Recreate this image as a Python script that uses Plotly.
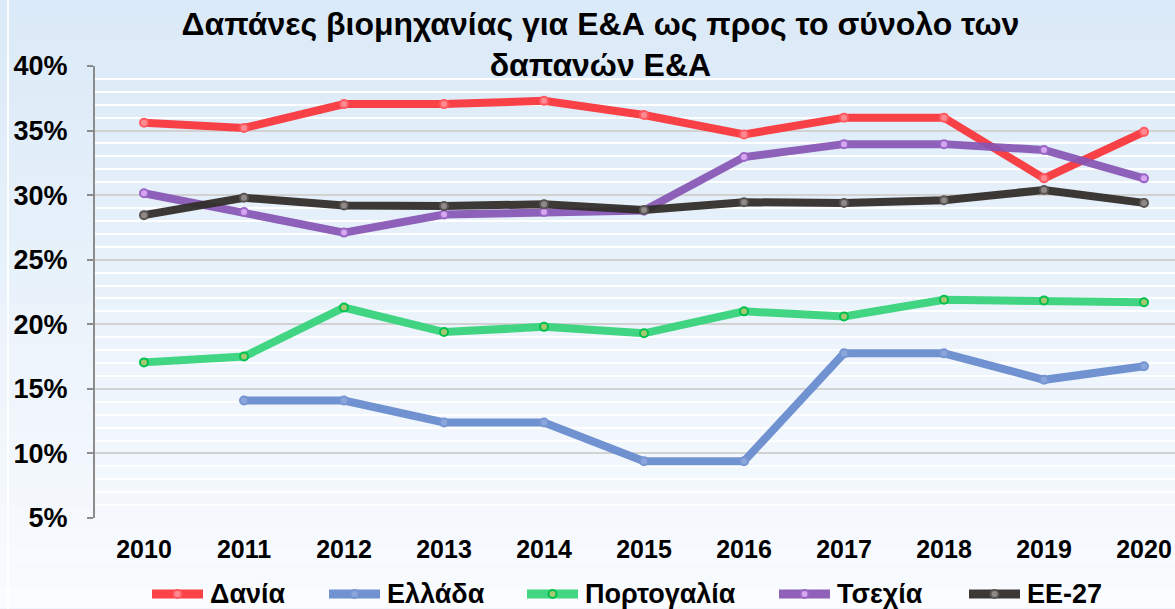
import plotly.graph_objects as go

years = ['2010', '2011', '2012', '2013', '2014', '2015', '2016', '2017', '2018', '2019', '2020']

dania = [35.6, 35.2, 37.05, 37.05, 37.3, 36.2, 34.7, 36.0, 36.0, 31.3, 34.9]
ellada = [None, 14.1, 14.1, 12.4, 12.4, 9.4, 9.4, 17.75, 17.75, 15.7, 16.75]
portogalia = [17.05, 17.5, 21.3, 19.4, 19.8, 19.3, 21.0, 20.6, 21.9, 21.85, 21.7]
tsexia = [30.15, 28.7, 27.1, 28.5, 28.7, 28.8, 32.95, 33.95, 33.95, 33.5, 31.3]
ee27 = [28.45, 29.8, 29.2, 29.15, 29.3, 28.85, 29.45, 29.4, 29.6, 30.4, 29.4]

series = [
    ('Δανία', dania, 'rgba(250,50,55,0.92)', '#ff8a92', '#ff5a62'),
    ('Ελλάδα', ellada, 'rgba(105,140,205,0.95)', '#8aa6dc', '#7795d3'),
    ('Πορτογαλία', portogalia, 'rgba(50,210,120,0.92)', '#a5c870', '#00c050'),
    ('Τσεχία', tsexia, 'rgba(135,85,180,0.93)', '#d7a6f0', '#9a66c6'),
    ('ΕΕ-27', ee27, 'rgba(50,45,43,0.95)', '#8f8a88', '#5a5553'),
]

# plot area in pixels (for placing the hand-made legend)
L, R, T, B = 95, 1175, 66, 518
def px_x(p):
    return (p - L) / (R - L)
def px_y(p):
    return (B - p) / (B - T)

legend_x = [148, 325, 523, 775, 965]   # left end of each legend swatch
legend_y = 594
swatch = 59

fig = go.Figure()

# gradient background made of thin bands
n = 30
for i in range(n):
    t = i / (n - 1)
    r = int(219 + (250 - 219) * t)
    g = int(234 + (252 - 234) * t)
    b = int(248 + (255 - 248) * t)
    fig.add_shape(type='rect', xref='paper', yref='paper',
                  x0=-0.1, x1=1.1, y0=1.15 - (i + 1) * 1.35 / n, y1=1.15 - i * 1.35 / n,
                  fillcolor=f'rgb({r},{g},{b})', line_width=0, layer='below')

# faint frame line at the left edge
fig.add_shape(type='line', xref='paper', yref='paper', x0=px_x(8), x1=px_x(8), y0=-0.25, y1=1.2,
              line=dict(color='rgba(255,255,255,0.9)', width=2), layer='below')

for (name, vals, lc, mfill, mline), lx in zip(series, legend_x):
    fig.add_trace(go.Scatter(x=years, y=vals, name=name, mode='lines+markers',
                             line=dict(color=lc, width=8),
                             marker=dict(size=8, color=mfill, line=dict(color=mline, width=2)),
                             connectgaps=False, showlegend=False))
    # legend entry
    fig.add_shape(type='line', xref='paper', yref='paper',
                  x0=px_x(lx + 4), x1=px_x(lx + swatch - 4), y0=px_y(legend_y), y1=px_y(legend_y),
                  line=dict(color=lc, width=9))
    fig.add_shape(type='circle', xref='paper', yref='paper',
                  xsizemode='pixel', ysizemode='pixel',
                  xanchor=px_x(lx + swatch / 2), yanchor=px_y(legend_y),
                  x0=-4, x1=4, y0=-4, y1=4,
                  fillcolor=mfill, line=dict(color=mline, width=2))
    fig.add_annotation(xref='paper', yref='paper', x=px_x(lx + swatch + 1), y=px_y(legend_y),
                       xanchor='left', yanchor='middle', text=name, showarrow=False,
                       font=dict(size=27, weight='bold', color='black'))

fig.update_layout(
    width=1175, height=609,
    margin=dict(l=L, r=1175 - R, t=T, b=609 - B, autoexpand=False),
    paper_bgcolor='#e6f0fb',
    plot_bgcolor='rgba(0,0,0,0)',
    font=dict(family='Liberation Sans, Arial', color='black'),
    title=dict(text='Δαπάνες βιομηχανίας για Ε&Α ως προς το σύνολο των<br>δαπανών Ε&Α',
               x=0.511, xanchor='center', y=0.943, yanchor='top',
               font=dict(size=32, weight='bold', color='black')),
    showlegend=False,
)

fig.update_xaxes(type='category', range=[-0.49, 10.31], showgrid=False, zeroline=False,
                 showline=False, ticks='', automargin=False, ticklabelstandoff=14,
                 tickfont=dict(size=25, weight='bold', color='black'))

fig.update_yaxes(range=[5, 40], dtick=5, tick0=5, ticksuffix='%',
                 showgrid=True, gridcolor='#d2d2d2', gridwidth=2,
                 minor=dict(dtick=1, showgrid=True, gridcolor='white', gridwidth=2),
                 showline=True, linecolor='#8c8c8c', linewidth=2,
                 ticks='outside', ticklen=6, tickcolor='#8c8c8c', tickwidth=2,
                 zeroline=False, ticklabelstandoff=14, automargin=False,
                 tickfont=dict(size=27, weight='bold', color='black'))

# the page body has an 8px default margin; drop it so the figure fills the window
fig.write_html("out.html", config={'displayModeBar': False},
               post_script="document.body.style.margin='0';")
